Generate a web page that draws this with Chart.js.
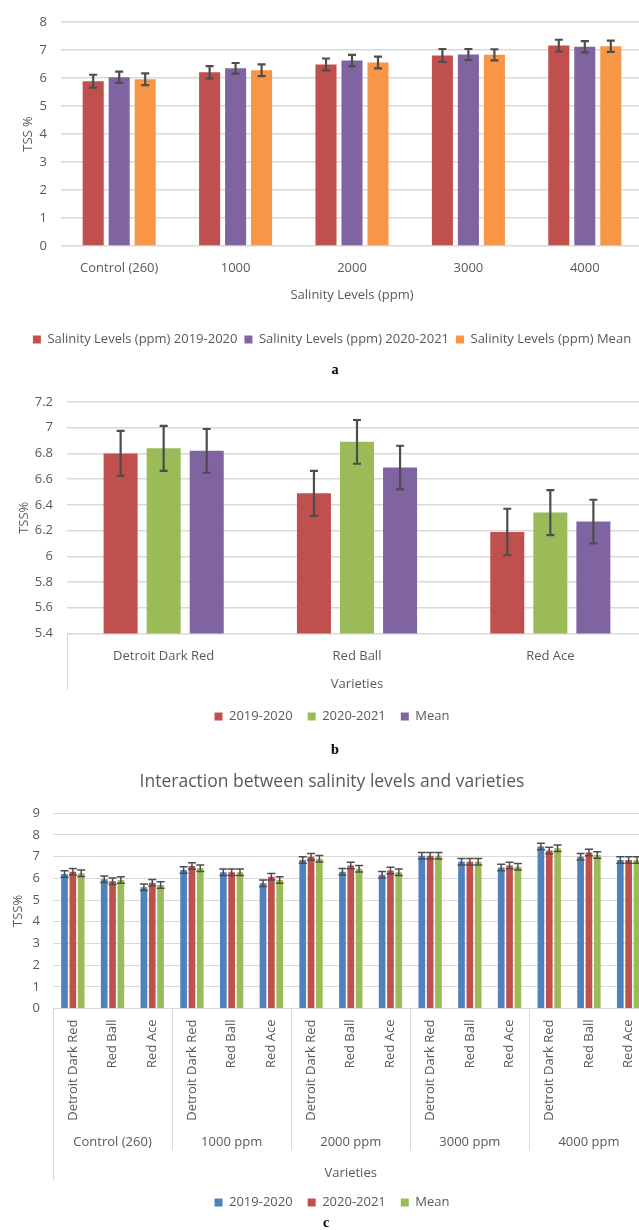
<!DOCTYPE html>
<html>
<head>
<meta charset="utf-8">
<script src="https://cdn.jsdelivr.net/npm/chart.js@4.4.1/dist/chart.umd.min.js"></script>
<style>
  html, body { margin: 0; padding: 0; background: #fff; width: 639px; height: 1230px; overflow: hidden; position: relative; }
  canvas { position: absolute; left: 0; }
  .cap { position: absolute; font: bold 14px "Liberation Serif", "Times New Roman", serif; color: #000; transform: translateX(-50%); line-height: 16px; }
</style>
</head>
<body>
<canvas id="chartA" width="664" height="356" style="top:0"></canvas>
<div class="cap" style="left:335px; top:362px">a</div>
<canvas id="chartB" width="664" height="353" style="top:380px"></canvas>
<div class="cap" style="left:335px; top:742px">b</div>
<canvas id="chartC" width="664" height="457" style="top:762px"></canvas>
<div class="cap" style="left:326px; top:1215px">c</div>

<script>
// TSS % by salinity level
const salinityLevels = ['Control (260)', '1000', '2000', '3000', '4000'];
const salinity2019 = [5.88, 6.20, 6.48, 6.80, 7.15];
const salinity2020 = [6.02, 6.34, 6.62, 6.83, 7.11];
const salinityMean = [5.95, 6.27, 6.55, 6.82, 7.13];
const salinity2019Err = [0.23, 0.22, 0.21, 0.23, 0.21];
const salinity2020Err = [0.20, 0.19, 0.20, 0.20, 0.20];
const salinityMeanErr = [0.21, 0.21, 0.21, 0.20, 0.20];

// TSS % by variety
const varieties = ['Detroit Dark Red', 'Red Ball', 'Red Ace'];
const variety2019 = [6.80, 6.49, 6.19];
const variety2020 = [6.84, 6.89, 6.34];
const varietyMean = [6.82, 6.69, 6.27];
const variety2019Err = [0.175, 0.175, 0.18];
const variety2020Err = [0.175, 0.17, 0.175];
const varietyMeanErr = [0.17, 0.17, 0.17];

// salinity x variety interaction
const levelGroups = ['Control (260)', '1000 ppm', '2000 ppm', '3000 ppm', '4000 ppm'];
const comboLabels = levelGroups.flatMap(() => varieties);
const combo2019 = [6.20, 5.96, 5.59, 6.39, 6.28, 5.77, 6.85, 6.30, 6.17, 7.04, 6.77, 6.50, 7.47, 7.00, 6.85];
const combo2020 = [6.30, 5.87, 5.80, 6.57, 6.28, 6.08, 7.00, 6.59, 6.36, 7.04, 6.77, 6.59, 7.28, 7.19, 6.85];
const comboMean = [6.24, 5.93, 5.69, 6.47, 6.28, 5.93, 6.90, 6.44, 6.28, 7.04, 6.77, 6.54, 7.39, 7.08, 6.85];
const combo2019Err = [0.15, 0.15, 0.15, 0.15, 0.15, 0.15, 0.15, 0.15, 0.15, 0.15, 0.15, 0.15, 0.15, 0.15, 0.15];
const combo2020Err = [0.15, 0.15, 0.15, 0.15, 0.15, 0.15, 0.15, 0.15, 0.15, 0.15, 0.15, 0.15, 0.15, 0.15, 0.15];
const comboMeanErr = [0.15, 0.15, 0.15, 0.15, 0.15, 0.15, 0.15, 0.15, 0.15, 0.15, 0.15, 0.15, 0.15, 0.15, 0.15];

const RED = '#C0504D', PURPLE = '#8064A2', ORANGE = '#F79646', GREEN = '#9BBB59', BLUE = '#4F81BD';
const TEXT = '#595959', GRID = '#D9D9D9';

Chart.defaults.font.family = "'Open Sans', sans-serif";
Chart.defaults.font.size = 13;
Chart.defaults.color = TEXT;
Chart.defaults.animation = false;

// +/- error whiskers on every bar
const errorBars = {
  id: 'errorBars',
  afterDatasetsDraw(chart, args, opts) {
    const { ctx } = chart;
    const y = chart.scales.y;
    ctx.save();
    ctx.strokeStyle = opts.color || '#555';
    ctx.lineWidth = opts.width || 2;
    chart.data.datasets.forEach((ds, di) => {
      chart.getDatasetMeta(di).data.forEach((bar, i) => {
        const top = y.getPixelForValue(ds.data[i] + ds.errors[i]);
        const bot = y.getPixelForValue(ds.data[i] - ds.errors[i]);
        ctx.beginPath();
        ctx.moveTo(bar.x, top); ctx.lineTo(bar.x, bot);
        ctx.moveTo(bar.x - opts.cap, top); ctx.lineTo(bar.x + opts.cap, top);
        ctx.moveTo(bar.x - opts.cap, bot); ctx.lineTo(bar.x + opts.cap, bot);
        ctx.stroke();
      });
    });
    ctx.restore();
  }
};

// box lines under the category axis
const categoryFrame = {
  id: 'categoryFrame',
  afterDraw(chart, args, opts) {
    const { ctx, chartArea } = chart;
    const x = chart.scales.x;
    ctx.save();
    ctx.strokeStyle = opts.color;
    ctx.lineWidth = 1;
    const left = Math.round(chartArea.left) + 0.5;
    ctx.beginPath();
    ctx.moveTo(left, chartArea.bottom);
    ctx.lineTo(left, chartArea.bottom + opts.outer);
    if (opts.group) {
      for (let i = opts.group; i < comboLabels.length; i += opts.group) {
        const px = Math.round(x.getPixelForValue(i - 0.5)) + 0.5;
        ctx.moveTo(px, chartArea.bottom);
        ctx.lineTo(px, chartArea.bottom + opts.inner);
      }
    }
    ctx.stroke();
    ctx.restore();
  }
};

function legendOpts(pad) {
  return {
    position: 'bottom',
    labels: { boxWidth: 8, boxHeight: 8, padding: pad, color: TEXT, font: { size: 13 } }
  };
}

// empty right-hand axis: keeps a gutter right of the plot without shifting the legend
function gutter(w) {
  return {
    type: 'linear', position: 'right', display: true,
    grid: { display: false, drawTicks: false }, border: { display: false },
    ticks: { display: false },
    afterFit: s => { s.width = w; }
  };
}

new Chart(document.getElementById('chartA'), {
  type: 'bar',
  data: {
    labels: salinityLevels,
    datasets: [
      { label: 'Salinity Levels (ppm) 2019-2020', data: salinity2019, errors: salinity2019Err, backgroundColor: RED },
      { label: 'Salinity Levels (ppm) 2020-2021', data: salinity2020, errors: salinity2020Err, backgroundColor: PURPLE },
      { label: 'Salinity Levels (ppm) Mean', data: salinityMean, errors: salinityMeanErr, backgroundColor: ORANGE }
    ]
  },
  options: {
    responsive: false,
    categoryPercentage: 0.67,
    barPercentage: 0.81,
    layout: { padding: { top: 19, right: 0, bottom: 0, left: 0 } },
    plugins: {
      legend: legendOpts(7),
      tooltip: { enabled: false },
      errorBars: { cap: 4, width: 2.2, color: '#4d4d4d' }
    },
    scales: {
      x: {
        grid: { display: false, drawTicks: false }, border: { display: false },
        ticks: { padding: 14 },
        title: { display: true, text: 'Salinity Levels (ppm)', padding: { top: 0, bottom: 23 } },
        afterFit: s => { s.height = 80; }
      },
      y: {
        min: 0, max: 8,
        ticks: { stepSize: 1, padding: 14 },
        grid: { color: GRID, lineWidth: 1.5, drawTicks: false },
        border: { display: false },
        title: { display: true, text: 'TSS %', padding: { top: 20, bottom: 0 } },
        afterFit: s => { s.width = 61; }
      },
      gutter: gutter(21)
    }
  },
  plugins: [errorBars]
});

new Chart(document.getElementById('chartB'), {
  type: 'bar',
  data: {
    labels: varieties,
    datasets: [
      { label: '2019-2020', data: variety2019, errors: variety2019Err, backgroundColor: RED },
      { label: '2020-2021', data: variety2020, errors: variety2020Err, backgroundColor: GREEN },
      { label: 'Mean', data: varietyMean, errors: varietyMeanErr, backgroundColor: PURPLE }
    ]
  },
  options: {
    responsive: false,
    categoryPercentage: 0.668,
    barPercentage: 0.79,
    layout: { padding: { top: 22, right: 0, bottom: 0, left: 0 } },
    plugins: {
      legend: legendOpts(15),
      tooltip: { enabled: false },
      errorBars: { cap: 4, width: 2.2, color: '#4d4d4d' },
      categoryFrame: { color: GRID, outer: 57 }
    },
    scales: {
      x: {
        grid: { display: false, drawTicks: false }, border: { display: false },
        ticks: { padding: 15 },
        title: { display: true, text: 'Varieties', padding: { top: 0, bottom: 3 } },
        afterFit: s => { s.height = 61.5; }
      },
      y: {
        min: 5.4, max: 7.2,
        ticks: { stepSize: 0.2, padding: 14, callback: v => String(+v.toFixed(1)) },
        grid: { color: GRID, lineWidth: 1.5, drawTicks: false },
        border: { display: false },
        title: { display: true, text: 'TSS%', padding: { top: 16, bottom: 0 } },
        afterFit: s => { s.width = 67; }
      },
      gutter: gutter(17)
    }
  },
  plugins: [errorBars, categoryFrame]
});

new Chart(document.getElementById('chartC'), {
  type: 'bar',
  data: {
    labels: comboLabels,
    datasets: [
      { label: '2019-2020', data: combo2019, errors: combo2019Err, backgroundColor: BLUE },
      { label: '2020-2021', data: combo2020, errors: combo2020Err, backgroundColor: RED },
      { label: 'Mean', data: comboMean, errors: comboMeanErr, backgroundColor: GREEN }
    ]
  },
  options: {
    responsive: false,
    categoryPercentage: 0.63,
    barPercentage: 0.8,
    layout: { padding: { top: 0, right: 0, bottom: 0, left: 0 } },
    plugins: {
      title: {
        display: true, text: 'Interaction between salinity levels and varieties',
        color: TEXT, font: { size: 17.5, weight: 'normal' }, padding: { top: 9.5, bottom: 20.8 }
      },
      legend: legendOpts(15),
      tooltip: { enabled: false },
      errorBars: { cap: 4, width: 1.5, color: '#4d4d4d' },
      categoryFrame: { color: GRID, outer: 172, inner: 142, group: 3 }
    },
    scales: {
      x: {
        grid: { display: false, drawTicks: false }, border: { display: false },
        ticks: { autoSkip: false, minRotation: 90, maxRotation: 90, padding: 11 },
        afterFit: s => { s.height = 120; }
      },
      x2: {
        type: 'category', labels: levelGroups, offset: true, position: 'bottom', weight: 1,
        grid: { display: false, drawTicks: false }, border: { display: false },
        ticks: { padding: 6 },
        title: { display: true, text: 'Varieties', padding: { top: 0, bottom: 0 } },
        afterFit: s => { s.height = 52.5; }
      },
      y: {
        min: 0, max: 9,
        ticks: { stepSize: 1, padding: 13 },
        grid: { color: GRID, lineWidth: 1, drawTicks: false },
        border: { display: false },
        title: { display: true, text: 'TSS%', padding: { top: 10, bottom: 0 } },
        afterFit: s => { s.width = 53; }
      },
      gutter: gutter(15.5)
    }
  },
  plugins: [errorBars, categoryFrame]
});
</script>
</body>
</html>
